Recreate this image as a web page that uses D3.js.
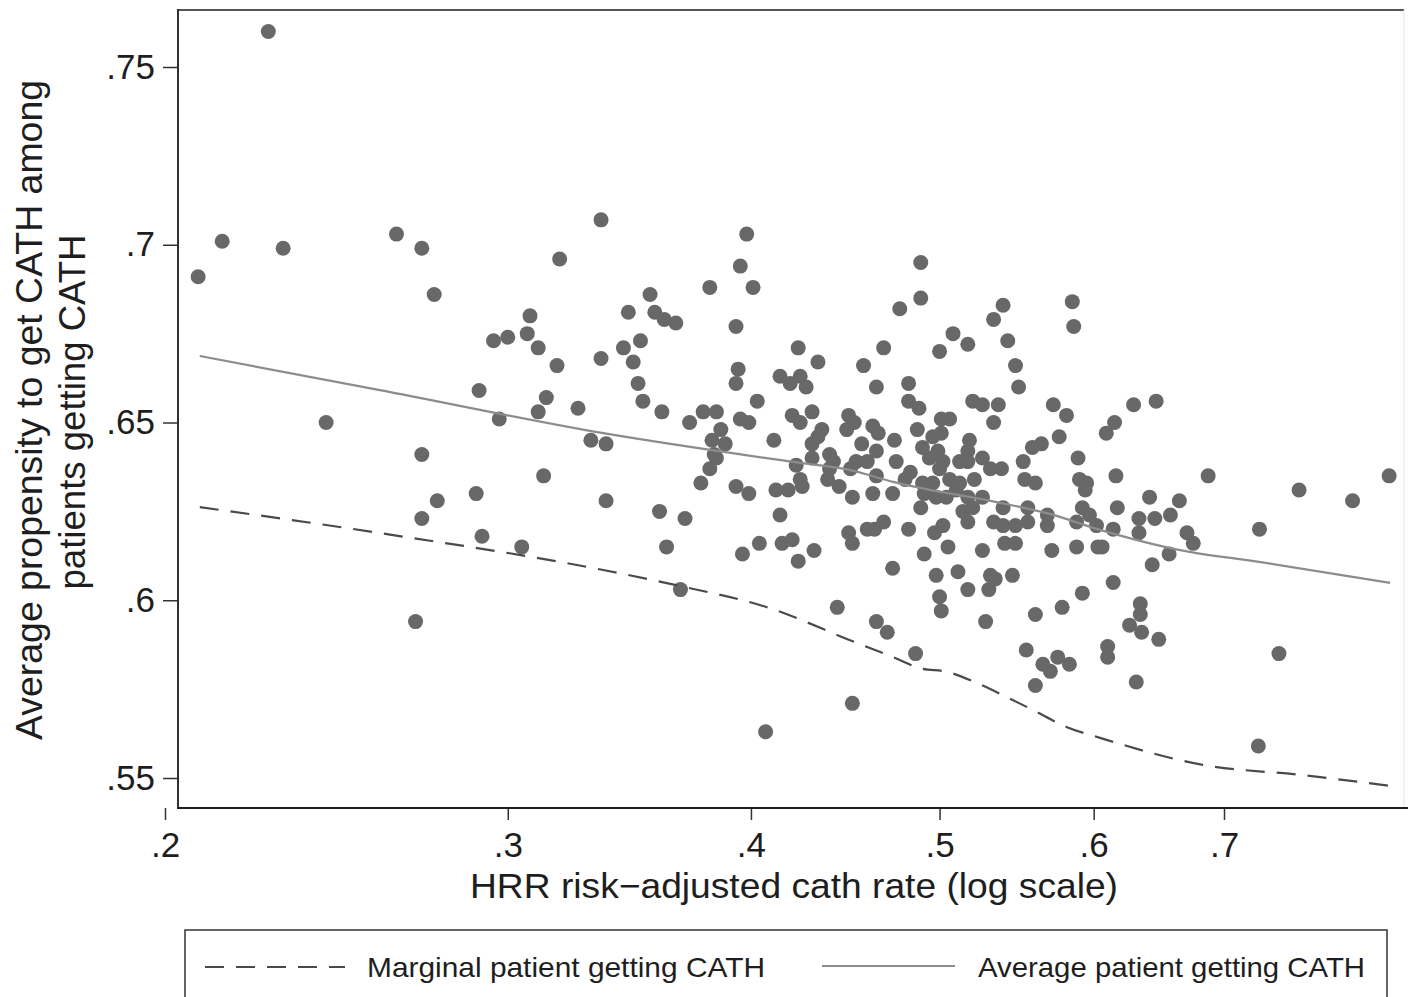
<!DOCTYPE html>
<html>
<head>
<meta charset="utf-8">
<script src="https://cdn.jsdelivr.net/npm/d3@7"></script>
<style>
  body { margin: 0; background: #fff; }
  svg { display: block; font-family: "Liberation Sans", Arial, Helvetica, sans-serif; }
</style>
</head>
<body>
<svg width="1408" height="997"></svg>
<script>
let width = 1408;
let height = 997;

// HRR risk-adjusted cath rate (x) and average propensity (y), one per HRR
let hrrRate = [
  .208,.214,.226,.230,.242,.263,.271,.275,.271,.276,.271,.269,.290,.289,.291,.295,.300,.297,.305,.308,
  .307,.311,.318,.319,.314,.311,.326,.313,.331,.337,.337,.335,.335,.395,.381,.401,.355,.346,.357,.361,
  .366,.393,.351,.344,.348,.423,.433,.457,.394,.393,.414,.419,.424,.427,.350,.352,.403,.360,.378,.384,
  .372,.386,.395,.399,.420,.424,.430,.449,.448,.452,.435,.411,.382,.388,.383,.384,.430,.433,.381,.422,
  .430,.439,.441,.450,.453,.439,.377,.393,.399,.412,.418,.424,.425,.438,.444,.451,.398,.489,.489,.477,
  .539,.533,.585,.586,.508,.517,.500,.542,.468,.547,.464,.482,.549,.482,.488,.520,.526,.536,.572,.581,
  .533,.462,.465,.501,.506,.487,.496,.501,.456,.474,.490,.464,.518,.517,.576,.558,.564,.609,.459,.475,
  .494,.499,.502,.500,.512,.517,.526,.531,.538,.552,.589,.464,.483,.480,.490,.496,.506,.512,.521,.553,
  .560,.590,.595,.594,.462,.473,.491,.498,.504,.510,.517,.526,.489,.514,.520,.539,.555,.568,.592,.597,
  .459,.463,.468,.482,.497,.502,.517,.533,.539,.547,.555,.568,.588,.602,.491,.505,.526,.540,.547,.571,
  .588,.603,.473,.498,.511,.531,.534,.545,.517,.530,.500,.501,.592,.560,.578,.528,.464,.470,.554,.565,
  .575,.570,.583,.486,.560,.451,.359,.370,.414,.362,.396,.404,.415,.420,.423,.431,.449,.451,.368,.443,
  .407,.629,.646,.615,.616,.687,.765,.815,.851,.617,.641,.645,.633,.657,.664,.614,.633,.670,.675,.730,
  .606,.656,.643,.614,.634,.634,.626,.635,.648,.610,.610,.747,.631,.729
];
let propensity = [
  .691,.701,.760,.699,.650,.703,.699,.686,.641,.628,.623,.594,.659,.630,.618,.673,.674,.651,.615,.680,
  .675,.671,.666,.696,.657,.653,.654,.635,.645,.644,.628,.668,.707,.694,.688,.688,.686,.681,.681,.679,
  .678,.677,.673,.671,.667,.671,.667,.666,.665,.661,.663,.661,.663,.660,.661,.656,.656,.653,.653,.653,
  .650,.648,.651,.650,.652,.650,.653,.652,.648,.650,.648,.645,.645,.644,.641,.640,.644,.646,.637,.638,
  .640,.641,.639,.637,.639,.637,.633,.632,.630,.631,.631,.634,.632,.634,.632,.629,.703,.695,.685,.682,
  .683,.679,.684,.677,.675,.672,.670,.673,.671,.666,.660,.661,.660,.656,.654,.656,.655,.655,.655,.652,
  .650,.649,.647,.651,.651,.648,.646,.647,.644,.645,.643,.642,.645,.642,.646,.643,.644,.647,.639,.639,
  .640,.642,.639,.637,.639,.639,.640,.637,.637,.639,.640,.635,.636,.634,.633,.633,.634,.633,.634,.634,
  .633,.634,.633,.631,.630,.630,.630,.629,.629,.631,.629,.629,.626,.625,.626,.626,.626,.624,.626,.624,
  .620,.620,.622,.620,.619,.621,.622,.622,.621,.621,.622,.621,.622,.621,.613,.615,.614,.616,.616,.614,
  .615,.615,.609,.607,.608,.607,.606,.607,.603,.603,.601,.597,.602,.596,.598,.594,.594,.591,.586,.582,
  .584,.580,.582,.585,.576,.571,.625,.623,.624,.615,.613,.616,.616,.617,.611,.614,.619,.616,.603,.598,
  .563,.655,.656,.650,.635,.635,.631,.628,.635,.626,.629,.623,.623,.624,.628,.620,.619,.619,.616,.620,
  .615,.613,.610,.605,.599,.596,.593,.591,.589,.587,.584,.585,.577,.559
];

// fitted curves
let avgLineX = [.2084, .2579, .3359, .4204, .4498, .4732, .5370, .5678, .6045, .6645, .7296, .8520];
let avgLineY = [.6687, .6591, .6470, .6389, .6366, .6333, .6274, .6245, .6198, .6141, .6108, .6049];
let margLineX = [.2084, .2579, .3359, .3679, .4073, .4519, .4732, .4886, .5049, .5226, .5426, .5585, .5814, .6045, .6827, .7685, .8520];
let margLineY = [.6262, .6189, .6085, .6040, .5981, .5883, .5840, .5809, .5798, .5767, .5725, .5691, .5643, .5613, .5537, .5508, .5478];

let xTicks = [.2, .3, .4, .5, .6, .7];
let yTicks = [.55, .6, .65, .7, .75];

let plotLeft = 178, plotRight = 1404, plotTop = 10, plotBottom = 808;

let svg = d3.select('svg');
svg.append('rect').attr('width', width).attr('height', height).attr('fill', '#fff');

let xScale = d3.scaleLog().domain([.2, .7]).range([165, 1224]);
let yScale = d3.scaleLinear().domain([.55, .75]).range([778, 67]);

let fmt = d => String(+d.toFixed(2)).replace(/^0/, '');

// frame
svg.append('line').attr('x1', plotLeft).attr('x2', plotRight).attr('y1', plotTop).attr('y2', plotTop)
  .attr('stroke', '#555').attr('stroke-width', 2);
svg.append('line').attr('x1', plotRight).attr('x2', plotRight).attr('y1', plotTop).attr('y2', plotBottom)
  .attr('stroke', '#e4e4e4').attr('stroke-width', 1);

// points
svg.append('g').selectAll('circle')
  .data(hrrRate.map((d, i) => [d, propensity[i]]))
  .join('circle')
  .attr('cx', d => xScale(d[0]))
  .attr('cy', d => yScale(d[1]))
  .attr('r', 7.5)
  .attr('fill', '#686868');

// lines
let line = d3.line().x(d => xScale(d[0])).y(d => yScale(d[1])).curve(d3.curveMonotoneX);
svg.append('path')
  .datum(avgLineX.map((d, i) => [d, avgLineY[i]]))
  .attr('d', line).attr('fill', 'none').attr('stroke', '#8c8c8c').attr('stroke-width', 2.2);
svg.append('path')
  .datum(margLineX.map((d, i) => [d, margLineY[i]]))
  .attr('d', line).attr('fill', 'none').attr('stroke', '#4a4a4a').attr('stroke-width', 2.2)
  .attr('stroke-dasharray', '19,12');

// y axis
let yAxis = d3.axisLeft(yScale).tickValues(yTicks).tickFormat(fmt).tickSize(15).tickPadding(8);
let gy = svg.append('g').attr('transform', 'translate(' + plotLeft + ',0)').call(yAxis);
gy.select('.domain').remove();
gy.selectAll('.tick line').attr('stroke', '#333').attr('stroke-width', 1.5);
gy.selectAll('.tick text').attr('font-size', 35).attr('fill', '#1e1e1e')
  .attr('font-family', '"Liberation Sans", Arial, sans-serif');

// x axis
let xAxis = d3.axisBottom(xScale).tickValues(xTicks).tickFormat(fmt).tickSize(12).tickPadding(12);
let gx = svg.append('g').attr('transform', 'translate(0,' + plotBottom + ')').call(xAxis);
gx.select('.domain').remove();
gx.selectAll('.tick line').attr('stroke', '#333').attr('stroke-width', 1.5);
gx.selectAll('.tick text').attr('font-size', 35).attr('fill', '#1e1e1e')
  .attr('font-family', '"Liberation Sans", Arial, sans-serif');

// axis lines
svg.append('line').attr('x1', plotLeft).attr('x2', plotLeft).attr('y1', plotTop - 1).attr('y2', plotBottom)
  .attr('stroke', '#333').attr('stroke-width', 2);
svg.append('line').attr('x1', plotLeft - 1).attr('x2', width).attr('y1', plotBottom).attr('y2', plotBottom)
  .attr('stroke', '#1e1e1e').attr('stroke-width', 2.2);

// titles
svg.append('text').attr('x', 794).attr('y', 898).attr('text-anchor', 'middle')
  .attr('font-size', 35).attr('fill', '#1e1e1e')
  .attr('textLength', 648).attr('lengthAdjust', 'spacingAndGlyphs')
  .text('HRR risk\u2212adjusted cath rate (log scale)');

svg.append('text').attr('transform', 'translate(42,410) rotate(-90)').attr('text-anchor', 'middle')
  .attr('font-size', 36).attr('fill', '#1e1e1e')
  .attr('textLength', 660).attr('lengthAdjust', 'spacingAndGlyphs')
  .text('Average propensity to get CATH among');
svg.append('text').attr('transform', 'translate(85,412) rotate(-90)').attr('text-anchor', 'middle')
  .attr('font-size', 36).attr('fill', '#1e1e1e')
  .attr('textLength', 355).attr('lengthAdjust', 'spacingAndGlyphs')
  .text('patients getting CATH');

// legend
let legendNames = ['Marginal patient getting CATH', 'Average patient getting CATH'];
svg.append('rect').attr('x', 185).attr('y', 930).attr('width', 1202).attr('height', 80)
  .attr('fill', '#fff').attr('stroke', '#333').attr('stroke-width', 1.5);
svg.append('line').attr('x1', 205).attr('x2', 345).attr('y1', 967).attr('y2', 967)
  .attr('stroke', '#4a4a4a').attr('stroke-width', 2.2).attr('stroke-dasharray', '19,12');
svg.append('line').attr('x1', 822).attr('x2', 955).attr('y1', 966).attr('y2', 966)
  .attr('stroke', '#8c8c8c').attr('stroke-width', 2.2);
svg.append('text').attr('x', 367).attr('y', 977).attr('font-size', 28).attr('fill', '#1e1e1e')
  .attr('textLength', 398).attr('lengthAdjust', 'spacingAndGlyphs').text(legendNames[0]);
svg.append('text').attr('x', 978).attr('y', 977).attr('font-size', 28).attr('fill', '#1e1e1e')
  .attr('textLength', 387).attr('lengthAdjust', 'spacingAndGlyphs').text(legendNames[1]);
</script>
</body>
</html>
